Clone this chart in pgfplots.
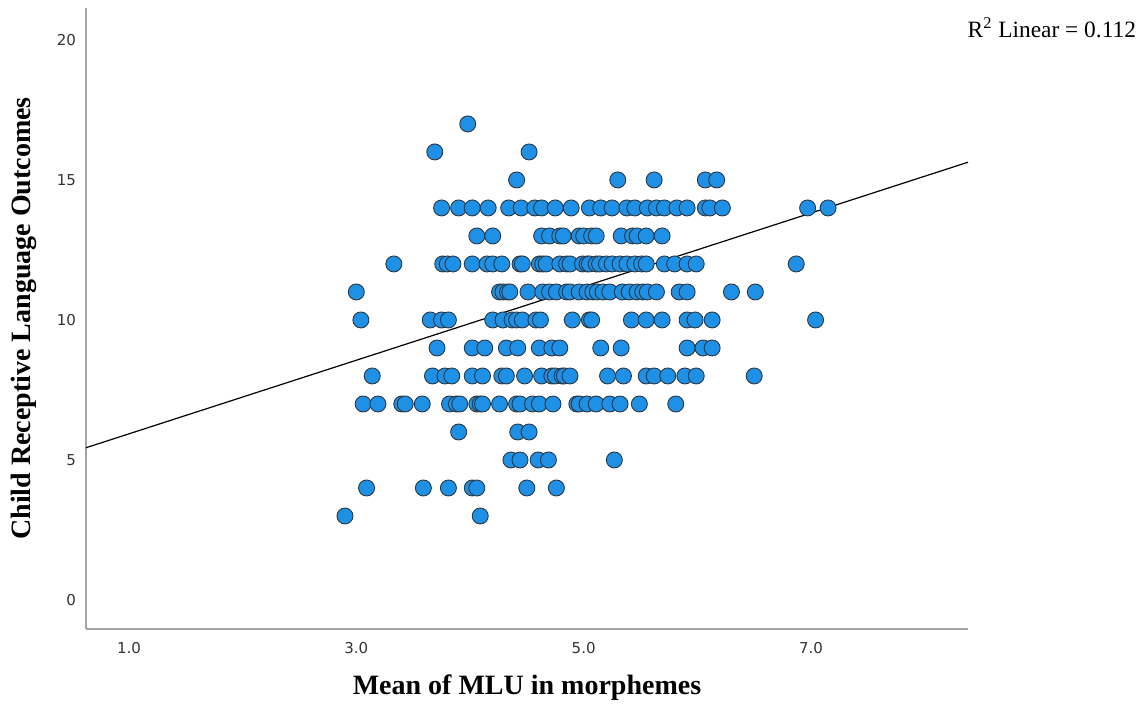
\documentclass[border=0pt]{standalone}
\usepackage{pgfplots}
\usepackage{pgfplotstable}
\pgfplotsset{compat=1.18}
\usepackage{fontspec}
\setmainfont{Liberation Serif}
\newfontfamily\tickfont{DejaVu Sans}
\definecolor{ptblue}{RGB}{30,144,230}
\definecolor{ptedge}{RGB}{45,55,65}
\definecolor{axgray}{RGB}{165,165,165}

\pgfplotstableread{
x y
3.98 17
3.69 16
4.52 16
4.41 15
5.30 15
5.62 15
6.07 15
6.17 15
3.75 14
3.90 14
4.02 14
4.16 14
4.34 14
4.45 14
4.57 14
4.63 14
4.75 14
4.89 14
5.05 14
5.15 14
5.25 14
5.38 14
5.45 14
5.56 14
5.64 14
5.71 14
5.82 14
5.91 14
6.07 14
6.11 14
6.22 14
6.97 14
7.15 14
4.06 13
4.20 13
4.63 13
4.70 13
4.79 13
4.82 13
4.96 13
5.00 13
5.07 13
5.11 13
5.33 13
5.43 13
5.47 13
5.55 13
5.69 13
3.33 12
3.76 12
3.80 12
3.85 12
4.02 12
4.15 12
4.20 12
4.28 12
4.44 12
4.46 12
4.61 12
4.64 12
4.67 12
4.79 12
4.85 12
4.88 12
4.99 12
5.03 12
5.05 12
5.11 12
5.14 12
5.20 12
5.25 12
5.32 12
5.38 12
5.45 12
5.51 12
5.55 12
5.71 12
5.80 12
5.91 12
5.99 12
6.87 12
3.00 11
4.26 11
4.29 11
4.33 11
4.35 11
4.51 11
4.64 11
4.70 11
4.76 11
4.85 11
4.88 11
4.96 11
5.03 11
5.08 11
5.12 11
5.17 11
5.23 11
5.34 11
5.40 11
5.47 11
5.52 11
5.56 11
5.64 11
5.84 11
5.91 11
6.30 11
6.51 11
3.04 10
3.65 10
3.75 10
3.81 10
4.20 10
4.29 10
4.37 10
4.41 10
4.46 10
4.58 10
4.62 10
4.90 10
5.05 10
5.07 10
5.42 10
5.55 10
5.69 10
5.91 10
5.98 10
6.13 10
7.04 10
3.71 9
4.02 9
4.13 9
4.32 9
4.42 9
4.61 9
4.72 9
4.79 9
5.15 9
5.33 9
5.91 9
6.05 9
6.13 9
3.14 8
3.67 8
3.78 8
3.84 8
4.02 8
4.11 8
4.28 8
4.32 8
4.48 8
4.63 8
4.72 8
4.75 8
4.81 8
4.83 8
4.88 8
5.21 8
5.35 8
5.55 8
5.62 8
5.74 8
5.89 8
5.99 8
6.50 8
3.06 7
3.19 7
3.40 7
3.43 7
3.58 7
3.82 7
3.88 7
3.91 7
4.06 7
4.09 7
4.11 7
4.26 7
4.41 7
4.44 7
4.55 7
4.61 7
4.73 7
4.94 7
4.96 7
5.03 7
5.11 7
5.23 7
5.32 7
5.49 7
5.81 7
3.90 6
4.42 6
4.52 6
4.36 5
4.44 5
4.60 5
4.69 5
5.27 5
3.09 4
3.59 4
3.81 4
4.02 4
4.06 4
4.50 4
4.76 4
2.90 3
4.09 3
}\scatterdata

\begin{document}
\begin{tikzpicture}
\useasboundingbox (-43pt,-40pt) rectangle (529pt,314.5pt);
\begin{axis}[
  scale only axis, width=441pt, height=310.5pt,
  xmin=0.622, xmax=8.381, ymin=-1.036, ymax=21.14,
  axis x line=bottom, axis y line=left,
  axis line style={-, draw=axgray, line width=1pt},
  xtick={1,3,5,7}, ytick={0,5,10,15,20},
  major tick length=0pt,
  tick style={draw=none},
  ticklabel style={font=\tickfont\fontsize{7.5}{9}\selectfont, text=black!80},
  xticklabel style={yshift=-3pt, /pgf/number format/.cd, fixed, fixed zerofill, precision=1, assume math mode=true},
  yticklabel style={xshift=-1.5pt, /pgf/number format/assume math mode=true},
  xlabel={Mean of MLU in morphemes},
  ylabel={Child Receptive Language Outcomes},
  xlabel style={at={(axis description cs:0.5,-0.095)}, anchor=center, font=\fontsize{14}{16}\selectfont\bfseries},
  ylabel style={at={(axis description cs:-0.0703,0.5)}, anchor=center, font=\fontsize{14}{16}\selectfont\bfseries},
  clip=false,
]
\addplot[only marks, mark=*, mark size=4pt,
  mark options={fill=ptblue, draw=ptedge, line width=0.45pt}]
  table[x=x, y=y] {\scatterdata};
\addplot[black, line width=0.6pt] coordinates {(0.622,5.437) (8.381,15.633)};
\node[anchor=east, font=\fontsize{11.7}{13}\selectfont] at (axis description cs:1.1985,0.968)
  {R\textsuperscript{2} Linear = 0.112};
\end{axis}
\end{tikzpicture}
\end{document}
